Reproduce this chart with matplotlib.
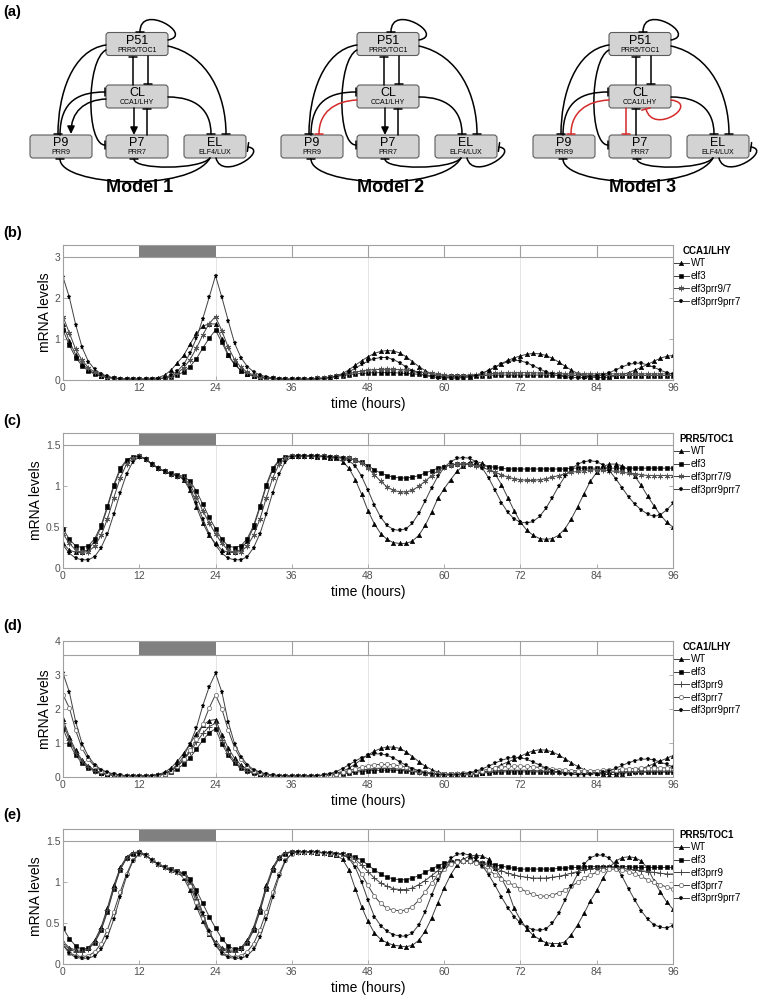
import numpy as np
import matplotlib
matplotlib.use('Agg')
import matplotlib.pyplot as plt
from matplotlib.patches import FancyBboxPatch, FancyArrowPatch, Rectangle
from matplotlib.path import Path

plt.rcParams['font.family'] = 'Liberation Sans'

hours = np.arange(0, 97)

# ---- (b) CCA1/LHY, model vs elf3 double/triple mutants ----
b_wt = [1.37, 0.95, 0.62, 0.40, 0.25, 0.16, 0.10, 0.06, 0.04, 0.03, 0.02, 0.02, 0.02,
        0.02, 0.03, 0.06, 0.12, 0.24, 0.42, 0.60, 0.88, 1.14, 1.32, 1.37, 1.37,
        1.00, 0.62, 0.38, 0.23, 0.14, 0.09, 0.06, 0.04, 0.03, 0.02, 0.02, 0.02,
        0.02, 0.02, 0.02, 0.03, 0.04, 0.06, 0.10, 0.16, 0.25, 0.36, 0.47, 0.57,
        0.65, 0.70, 0.72, 0.71, 0.66, 0.57, 0.45, 0.33, 0.23, 0.15, 0.10, 0.07,
        0.05, 0.05, 0.06, 0.08, 0.12, 0.17, 0.24, 0.32, 0.40, 0.48, 0.54, 0.59,
        0.63, 0.65, 0.64, 0.60, 0.53, 0.44, 0.34, 0.24, 0.16, 0.10, 0.07, 0.06,
        0.06, 0.07, 0.09, 0.13, 0.18, 0.24, 0.31, 0.38, 0.46, 0.53, 0.58, 0.60]
b_elf3 = [1.22, 0.85, 0.55, 0.35, 0.22, 0.14, 0.09, 0.06, 0.04, 0.03, 0.02, 0.02, 0.02,
          0.02, 0.02, 0.03, 0.04, 0.07, 0.12, 0.20, 0.33, 0.52, 0.78, 1.02, 1.22,
          0.92, 0.60, 0.38, 0.24, 0.15, 0.10, 0.07, 0.05, 0.04, 0.03, 0.02, 0.02,
          0.02, 0.02, 0.03, 0.04, 0.05, 0.07, 0.09, 0.11, 0.13, 0.15, 0.16, 0.17,
          0.18, 0.18, 0.18, 0.18, 0.17, 0.16, 0.15, 0.14, 0.12, 0.11, 0.10, 0.09,
          0.09, 0.09, 0.09, 0.10, 0.10, 0.11, 0.11, 0.12, 0.12, 0.12, 0.12, 0.12,
          0.12, 0.12, 0.12, 0.12, 0.12, 0.11, 0.11, 0.11, 0.11, 0.11, 0.11, 0.11,
          0.11, 0.11, 0.11, 0.11, 0.11, 0.11, 0.11, 0.11, 0.11, 0.11, 0.11, 0.11]
b_p97 = [1.55, 1.15, 0.75, 0.48, 0.30, 0.19, 0.12, 0.08, 0.05, 0.03, 0.02, 0.02, 0.02,
         0.02, 0.02, 0.03, 0.05, 0.09, 0.17, 0.30, 0.50, 0.78, 1.10, 1.38, 1.55,
         1.20, 0.80, 0.50, 0.31, 0.19, 0.12, 0.08, 0.05, 0.04, 0.03, 0.02, 0.02,
         0.02, 0.02, 0.03, 0.04, 0.05, 0.07, 0.10, 0.13, 0.16, 0.19, 0.22, 0.24,
         0.25, 0.26, 0.26, 0.26, 0.25, 0.24, 0.22, 0.20, 0.18, 0.16, 0.14, 0.12,
         0.11, 0.11, 0.11, 0.12, 0.13, 0.14, 0.15, 0.16, 0.17, 0.18, 0.18, 0.18,
         0.18, 0.18, 0.17, 0.17, 0.16, 0.16, 0.15, 0.15, 0.15, 0.15, 0.15, 0.15,
         0.15, 0.15, 0.15, 0.15, 0.15, 0.15, 0.15, 0.15, 0.15, 0.15, 0.15, 0.15]
b_p9p7 = [2.52, 2.02, 1.35, 0.80, 0.45, 0.26, 0.15, 0.09, 0.05, 0.03, 0.02, 0.02, 0.02,
          0.02, 0.02, 0.03, 0.06, 0.12, 0.22, 0.38, 0.66, 1.02, 1.50, 2.02, 2.55,
          2.02, 1.45, 0.90, 0.55, 0.33, 0.20, 0.12, 0.08, 0.05, 0.03, 0.02, 0.02,
          0.02, 0.02, 0.02, 0.02, 0.03, 0.05, 0.08, 0.13, 0.20, 0.29, 0.38, 0.46,
          0.52, 0.55, 0.55, 0.50, 0.42, 0.32, 0.23, 0.16, 0.11, 0.08, 0.06, 0.05,
          0.05, 0.05, 0.06, 0.08, 0.11, 0.16, 0.23, 0.31, 0.39, 0.45, 0.48, 0.47,
          0.42, 0.35, 0.27, 0.20, 0.14, 0.10, 0.08, 0.06, 0.06, 0.06, 0.07, 0.09,
          0.13, 0.18, 0.25, 0.32, 0.38, 0.41, 0.41, 0.37, 0.31, 0.24, 0.18, 0.14]

# ---- (c) PRR5/TOC1 ----
c_wt = [0.30, 0.22, 0.19, 0.19, 0.23, 0.33, 0.50, 0.74, 1.00, 1.20, 1.31, 1.36, 1.37,
        1.33, 1.27, 1.22, 1.18, 1.15, 1.13, 1.08, 0.95, 0.75, 0.55, 0.40, 0.30,
        0.22, 0.19, 0.19, 0.23, 0.33, 0.50, 0.74, 1.00, 1.20, 1.31, 1.36, 1.37,
        1.37, 1.37, 1.37, 1.36, 1.36, 1.35, 1.34, 1.30, 1.22, 1.08, 0.90, 0.70,
        0.54, 0.42, 0.35, 0.31, 0.30, 0.30, 0.33, 0.40, 0.52, 0.68, 0.85, 0.97,
        1.08, 1.18, 1.25, 1.29, 1.30, 1.28, 1.23, 1.15, 1.02, 0.86, 0.70, 0.56,
        0.46, 0.40, 0.36, 0.35, 0.36, 0.40, 0.48, 0.60, 0.75, 0.91, 1.06, 1.17,
        1.24, 1.27, 1.27, 1.25, 1.20, 1.12, 1.01, 0.88, 0.76, 0.65, 0.56, 0.50]
c_elf3 = [0.48, 0.35, 0.27, 0.25, 0.27, 0.36, 0.52, 0.76, 1.02, 1.22, 1.32, 1.36, 1.37,
          1.33, 1.27, 1.22, 1.18, 1.16, 1.14, 1.12, 1.06, 0.94, 0.78, 0.62, 0.48,
          0.35, 0.27, 0.25, 0.27, 0.36, 0.52, 0.76, 1.02, 1.22, 1.32, 1.36, 1.37,
          1.37, 1.37, 1.37, 1.37, 1.37, 1.36, 1.36, 1.35, 1.34, 1.32, 1.29, 1.25,
          1.20, 1.16, 1.13, 1.11, 1.10, 1.10, 1.11, 1.13, 1.16, 1.19, 1.22, 1.24,
          1.26, 1.27, 1.27, 1.27, 1.26, 1.25, 1.24, 1.23, 1.22, 1.21, 1.21, 1.21,
          1.21, 1.21, 1.21, 1.21, 1.21, 1.21, 1.21, 1.22, 1.22, 1.22, 1.22, 1.22,
          1.22, 1.22, 1.22, 1.22, 1.22, 1.22, 1.22, 1.22, 1.22, 1.22, 1.22, 1.22]
c_p79 = [0.42, 0.30, 0.22, 0.19, 0.20, 0.27, 0.40, 0.60, 0.86, 1.10, 1.27, 1.34, 1.37,
         1.33, 1.27, 1.22, 1.18, 1.15, 1.13, 1.10, 1.02, 0.87, 0.70, 0.55, 0.42,
         0.30, 0.22, 0.19, 0.20, 0.27, 0.40, 0.60, 0.86, 1.10, 1.27, 1.34, 1.37,
         1.37, 1.37, 1.37, 1.37, 1.37, 1.36, 1.36, 1.35, 1.34, 1.32, 1.28, 1.22,
         1.14, 1.06, 0.99, 0.95, 0.93, 0.93, 0.95, 1.00, 1.06, 1.13, 1.19, 1.23,
         1.26, 1.27, 1.27, 1.27, 1.25, 1.23, 1.20, 1.17, 1.14, 1.11, 1.09, 1.08,
         1.07, 1.07, 1.08, 1.09, 1.11, 1.13, 1.15, 1.17, 1.18, 1.19, 1.20, 1.20,
         1.20, 1.19, 1.18, 1.17, 1.16, 1.15, 1.14, 1.13, 1.13, 1.13, 1.13, 1.13]
c_p9p7 = [0.28, 0.18, 0.12, 0.10, 0.10, 0.14, 0.25, 0.42, 0.66, 0.92, 1.15, 1.30, 1.36,
          1.33, 1.27, 1.22, 1.18, 1.15, 1.13, 1.09, 0.98, 0.80, 0.60, 0.42, 0.28,
          0.18, 0.12, 0.10, 0.10, 0.14, 0.25, 0.42, 0.66, 0.92, 1.15, 1.30, 1.36,
          1.37, 1.37, 1.37, 1.37, 1.36, 1.36, 1.35, 1.34, 1.31, 1.25, 1.12, 0.95,
          0.77, 0.62, 0.52, 0.47, 0.46, 0.48, 0.55, 0.67, 0.82, 0.98, 1.12, 1.23,
          1.30, 1.34, 1.35, 1.34, 1.30, 1.22, 1.10, 0.95, 0.80, 0.68, 0.60, 0.56,
          0.55, 0.57, 0.63, 0.73, 0.86, 1.00, 1.12, 1.21, 1.27, 1.30, 1.31, 1.30,
          1.26, 1.19, 1.09, 0.98, 0.87, 0.78, 0.71, 0.66, 0.63, 0.65, 0.71, 0.79]

# ---- (d) CCA1/LHY, single and double prr mutants in elf3 ----
d_wt = [1.70, 1.18, 0.78, 0.50, 0.32, 0.20, 0.13, 0.08, 0.05, 0.04, 0.03, 0.03, 0.03,
        0.03, 0.04, 0.07, 0.14, 0.27, 0.46, 0.70, 0.98, 1.27, 1.52, 1.66, 1.69,
        1.25, 0.85, 0.55, 0.35, 0.22, 0.14, 0.09, 0.06, 0.04, 0.03, 0.03, 0.03,
        0.03, 0.03, 0.03, 0.04, 0.05, 0.07, 0.11, 0.17, 0.26, 0.38, 0.52, 0.65,
        0.76, 0.84, 0.88, 0.88, 0.84, 0.74, 0.60, 0.45, 0.32, 0.22, 0.14, 0.09,
        0.07, 0.06, 0.06, 0.07, 0.09, 0.13, 0.19, 0.27, 0.36, 0.44, 0.52, 0.61,
        0.70, 0.77, 0.80, 0.79, 0.74, 0.65, 0.54, 0.42, 0.31, 0.22, 0.15, 0.11,
        0.08, 0.07, 0.08, 0.10, 0.13, 0.18, 0.24, 0.31, 0.39, 0.47, 0.55, 0.63]
d_elf3 = [1.42, 0.98, 0.64, 0.41, 0.26, 0.17, 0.11, 0.07, 0.05, 0.04, 0.03, 0.03, 0.03,
          0.03, 0.03, 0.05, 0.08, 0.14, 0.24, 0.38, 0.57, 0.82, 1.08, 1.30, 1.42,
          0.98, 0.64, 0.41, 0.26, 0.17, 0.11, 0.07, 0.05, 0.04, 0.03, 0.03, 0.03,
          0.03, 0.03, 0.03, 0.04, 0.05, 0.06, 0.08, 0.10, 0.12, 0.14, 0.16, 0.18,
          0.19, 0.20, 0.20, 0.20, 0.19, 0.18, 0.16, 0.14, 0.12, 0.10, 0.09, 0.08,
          0.08, 0.08, 0.09, 0.10, 0.11, 0.12, 0.13, 0.14, 0.15, 0.15, 0.15, 0.15,
          0.15, 0.15, 0.15, 0.14, 0.14, 0.14, 0.14, 0.14, 0.14, 0.14, 0.14, 0.14,
          0.14, 0.14, 0.14, 0.14, 0.14, 0.14, 0.14, 0.14, 0.14, 0.14, 0.14, 0.14]
d_p9 = [1.58, 1.10, 0.72, 0.46, 0.29, 0.18, 0.12, 0.08, 0.05, 0.04, 0.03, 0.03, 0.03,
        0.03, 0.04, 0.06, 0.10, 0.18, 0.31, 0.50, 0.74, 1.02, 1.28, 1.48, 1.58,
        1.10, 0.72, 0.46, 0.29, 0.18, 0.12, 0.08, 0.05, 0.04, 0.03, 0.03, 0.03,
        0.03, 0.03, 0.03, 0.04, 0.05, 0.07, 0.09, 0.12, 0.15, 0.18, 0.21, 0.23,
        0.25, 0.26, 0.26, 0.25, 0.23, 0.21, 0.18, 0.15, 0.12, 0.10, 0.08, 0.07,
        0.07, 0.08, 0.09, 0.10, 0.12, 0.14, 0.16, 0.18, 0.19, 0.20, 0.20, 0.20,
        0.20, 0.19, 0.18, 0.17, 0.16, 0.15, 0.14, 0.13, 0.13, 0.13, 0.13, 0.13,
        0.14, 0.14, 0.15, 0.15, 0.16, 0.16, 0.16, 0.17, 0.17, 0.17, 0.17, 0.17]
d_p7 = [2.42, 2.03, 1.37, 0.84, 0.52, 0.31, 0.19, 0.12, 0.08, 0.05, 0.04, 0.03, 0.03,
        0.03, 0.04, 0.06, 0.10, 0.18, 0.32, 0.52, 0.78, 1.12, 1.55, 2.03, 2.42,
        2.00, 1.38, 0.86, 0.52, 0.31, 0.19, 0.12, 0.08, 0.05, 0.04, 0.03, 0.03,
        0.03, 0.03, 0.03, 0.04, 0.05, 0.07, 0.10, 0.14, 0.19, 0.24, 0.29, 0.33,
        0.36, 0.37, 0.37, 0.36, 0.33, 0.29, 0.24, 0.19, 0.15, 0.12, 0.10, 0.09,
        0.09, 0.10, 0.11, 0.13, 0.16, 0.19, 0.23, 0.26, 0.29, 0.31, 0.32, 0.32,
        0.31, 0.30, 0.28, 0.26, 0.24, 0.22, 0.20, 0.19, 0.18, 0.18, 0.18, 0.19,
        0.20, 0.21, 0.22, 0.23, 0.24, 0.25, 0.26, 0.27, 0.27, 0.27, 0.27, 0.27]
d_p9p7 = [3.05, 2.50, 1.62, 0.98, 0.60, 0.36, 0.22, 0.14, 0.09, 0.06, 0.04, 0.03, 0.03,
          0.03, 0.04, 0.06, 0.11, 0.20, 0.36, 0.62, 0.98, 1.45, 2.10, 2.65, 3.05,
          2.50, 1.62, 0.98, 0.60, 0.36, 0.22, 0.14, 0.09, 0.06, 0.04, 0.03, 0.03,
          0.03, 0.03, 0.03, 0.04, 0.06, 0.10, 0.16, 0.25, 0.36, 0.47, 0.57, 0.64,
          0.68, 0.68, 0.64, 0.56, 0.45, 0.34, 0.25, 0.17, 0.12, 0.09, 0.07, 0.06,
          0.06, 0.07, 0.09, 0.12, 0.17, 0.24, 0.32, 0.41, 0.49, 0.55, 0.58, 0.57,
          0.52, 0.44, 0.35, 0.26, 0.19, 0.14, 0.10, 0.08, 0.07, 0.07, 0.08, 0.10,
          0.14, 0.19, 0.26, 0.34, 0.42, 0.48, 0.52, 0.53, 0.50, 0.44, 0.37, 0.30]

# ---- (e) PRR5/TOC1 ----
e_wt = [0.27, 0.20, 0.17, 0.17, 0.20, 0.29, 0.45, 0.69, 0.96, 1.18, 1.31, 1.36, 1.37,
        1.33, 1.27, 1.22, 1.18, 1.15, 1.12, 1.05, 0.90, 0.70, 0.52, 0.37, 0.27,
        0.20, 0.17, 0.17, 0.20, 0.29, 0.45, 0.69, 0.96, 1.18, 1.31, 1.36, 1.37,
        1.37, 1.37, 1.37, 1.36, 1.36, 1.35, 1.33, 1.28, 1.15, 0.92, 0.70, 0.52,
        0.38, 0.30, 0.26, 0.23, 0.22, 0.21, 0.23, 0.29, 0.40, 0.56, 0.75, 0.93,
        1.09, 1.21, 1.28, 1.32, 1.33, 1.32, 1.28, 1.17, 1.05, 0.90, 0.68, 0.54,
        0.43, 0.35, 0.30, 0.26, 0.25, 0.25, 0.27, 0.36, 0.48, 0.62, 0.77, 0.90,
        1.05, 1.18, 1.26, 1.30, 1.31, 1.30, 1.26, 1.17, 1.02, 0.88, 0.76, 0.67]
e_elf3 = [0.44, 0.31, 0.22, 0.18, 0.19, 0.26, 0.41, 0.64, 0.92, 1.15, 1.29, 1.35, 1.37,
          1.33, 1.27, 1.22, 1.18, 1.16, 1.14, 1.11, 1.04, 0.90, 0.74, 0.58, 0.44,
          0.31, 0.22, 0.18, 0.19, 0.26, 0.41, 0.64, 0.92, 1.15, 1.29, 1.35, 1.37,
          1.37, 1.37, 1.37, 1.37, 1.36, 1.36, 1.35, 1.34, 1.33, 1.31, 1.27, 1.21,
          1.15, 1.10, 1.06, 1.04, 1.03, 1.03, 1.05, 1.08, 1.12, 1.16, 1.20, 1.23,
          1.25, 1.26, 1.26, 1.26, 1.25, 1.24, 1.23, 1.21, 1.20, 1.18, 1.17, 1.16,
          1.16, 1.16, 1.16, 1.16, 1.16, 1.17, 1.17, 1.18, 1.18, 1.19, 1.19, 1.19,
          1.19, 1.19, 1.19, 1.19, 1.19, 1.18, 1.18, 1.18, 1.18, 1.18, 1.18, 1.18]
e_p9 = [0.25, 0.18, 0.15, 0.15, 0.18, 0.27, 0.43, 0.66, 0.93, 1.16, 1.30, 1.36, 1.37,
        1.33, 1.27, 1.22, 1.18, 1.15, 1.13, 1.09, 0.98, 0.80, 0.60, 0.40, 0.25,
        0.18, 0.15, 0.15, 0.18, 0.27, 0.43, 0.66, 0.93, 1.16, 1.30, 1.36, 1.37,
        1.37, 1.37, 1.37, 1.37, 1.36, 1.36, 1.35, 1.34, 1.32, 1.28, 1.21, 1.13,
        1.05, 0.99, 0.95, 0.92, 0.91, 0.91, 0.93, 0.97, 1.02, 1.08, 1.14, 1.19,
        1.23, 1.25, 1.26, 1.26, 1.25, 1.23, 1.20, 1.17, 1.14, 1.11, 1.09, 1.07,
        1.06, 1.05, 1.05, 1.05, 1.06, 1.07, 1.09, 1.11, 1.13, 1.15, 1.16, 1.17,
        1.18, 1.18, 1.18, 1.17, 1.16, 1.15, 1.14, 1.13, 1.12, 1.11, 1.10, 1.10]
e_p7 = [0.24, 0.14, 0.10, 0.09, 0.10, 0.15, 0.25, 0.42, 0.64, 0.88, 1.10, 1.27, 1.35,
        1.33, 1.27, 1.22, 1.18, 1.15, 1.12, 1.07, 0.95, 0.76, 0.56, 0.38, 0.24,
        0.14, 0.10, 0.09, 0.10, 0.15, 0.25, 0.42, 0.64, 0.88, 1.10, 1.27, 1.35,
        1.37, 1.37, 1.37, 1.37, 1.36, 1.36, 1.35, 1.34, 1.30, 1.22, 1.10, 0.96,
        0.83, 0.74, 0.68, 0.66, 0.65, 0.66, 0.70, 0.78, 0.88, 0.99, 1.08, 1.16,
        1.22, 1.25, 1.26, 1.26, 1.24, 1.20, 1.15, 1.09, 1.04, 1.00, 0.96, 0.92,
        0.88, 0.85, 0.83, 0.83, 0.84, 0.87, 0.90, 0.95, 1.00, 1.05, 1.09, 1.12,
        1.15, 1.16, 1.16, 1.15, 1.13, 1.10, 1.07, 1.03, 1.00, 0.97, 0.94, 0.92]
e_p9p7 = [0.23, 0.13, 0.08, 0.07, 0.07, 0.10, 0.18, 0.33, 0.55, 0.82, 1.07, 1.26, 1.35,
          1.33, 1.27, 1.22, 1.18, 1.15, 1.13, 1.10, 1.02, 0.85, 0.62, 0.40, 0.23,
          0.13, 0.08, 0.07, 0.07, 0.10, 0.18, 0.33, 0.55, 0.82, 1.07, 1.26, 1.35,
          1.37, 1.37, 1.37, 1.37, 1.36, 1.36, 1.35, 1.34, 1.29, 1.18, 1.00, 0.78,
          0.58, 0.47, 0.40, 0.36, 0.34, 0.34, 0.38, 0.48, 0.64, 0.84, 1.03, 1.18,
          1.29, 1.34, 1.35, 1.33, 1.28, 1.20, 1.09, 0.96, 0.82, 0.69, 0.58, 0.50,
          0.45, 0.42, 0.41, 0.43, 0.50, 0.62, 0.78, 0.95, 1.10, 1.22, 1.30, 1.33,
          1.33, 1.29, 1.20, 1.07, 0.92, 0.78, 0.65, 0.55, 0.48, 0.45, 0.44, 0.47]

xticks = [0, 12, 24, 36, 48, 60, 72, 84, 96]

STYLE = {
    'WT': dict(marker='^', ms=3.2, mfc='k', mec='k', mew=0.4),
    'elf3': dict(marker='s', ms=2.3, mfc='k', mec='k', mew=0.4),
    'star': dict(marker=(6, 2, 0), ms=4.0, mfc='#555555', mec='#555555', mew=0.7),
    'elf3prr9': dict(marker='+', ms=4.0, mfc='#444444', mec='#444444', mew=0.7),
    'elf3prr7': dict(marker='o', ms=3.0, mfc='white', mec='#777777', mew=0.6),
    'elf3prr9prr7': dict(marker='*', ms=3.6, mfc='k', mec='k', mew=0.3),
}

W, H = 766, 999
fig = plt.figure(figsize=(W / 100, H / 100), dpi=100)


def rect(x0, y0, x1, y1):
    return [x0 / W, 1 - y1 / H, (x1 - x0) / W, (y1 - y0) / H]


# ---------------- (a) model diagrams ----------------
axd = fig.add_axes([0, 0, 1, 1], zorder=0)
axd.set_xlim(0, W)
axd.set_ylim(H, 0)
axd.axis('off')

RED = '#d42a2a'


def box(cx, cy, name, sub):
    axd.add_patch(FancyBboxPatch((cx - 31, cy - 11.5), 62, 23,
                                 boxstyle='round,pad=0,rounding_size=3',
                                 fc='#d3d3d3', ec='#5c5c5c', lw=0.8, zorder=2))
    axd.text(cx, cy - 3.5, name, ha='center', va='center', fontsize=9, zorder=5)
    axd.text(cx, cy + 6.5, sub, ha='center', va='center', fontsize=5, zorder=5)


def edge(ox, pts, kind, color='k'):
    pts = [(x + ox, y) for x, y in pts]
    if len(pts) == 2:
        codes = [Path.MOVETO, Path.LINETO]
    else:
        codes = [Path.MOVETO, Path.CURVE4, Path.CURVE4, Path.CURVE4]
    if kind == 'arrow':
        style = '-|>,head_length=0.45,head_width=0.22'
    else:
        style = '-[,widthB=0.32,lengthB=0'
    axd.add_patch(FancyArrowPatch(path=Path(pts, codes), arrowstyle=style,
                                  mutation_scale=10, lw=1.1, color=color, zorder=3))


def model(ox, version, label):
    box(137 + ox, 44, 'P51', 'PRR5/TOC1')
    box(137 + ox, 96.5, 'CL', 'CCA1/LHY')
    box(61 + ox, 146.5, 'P9', 'PRR9')
    box(137 + ox, 146.5, 'P7', 'PRR7')
    box(215 + ox, 146.5, 'EL', 'ELF4/LUX')
    # P51 self-inhibition
    edge(ox, [(168, 40), (195, 35), (140, 2), (140, 32)], 'bar')
    # P51 <-> CL
    edge(ox, [(133, 85), (133, 57)], 'bar')
    edge(ox, [(148, 56), (148, 84)], 'bar')
    # P51 -| P9, P7, EL
    edge(ox, [(106, 45), (72, 50), (58, 95), (58, 134)], 'bar')
    edge(ox, [(106, 50), (86, 60), (86, 145), (105, 145)], 'bar')
    edge(ox, [(168, 46), (208, 55), (226, 95), (226, 134)], 'bar')
    # P9 -| CL
    edge(ox, [(60, 135), (60, 100), (80, 92), (105, 92)], 'bar')
    # CL -| EL
    edge(ox, [(168, 97), (196, 97), (211, 110), (211, 134)], 'bar')
    # EL self-inhibition
    edge(ox, [(216, 158), (222, 182), (270, 150), (248, 147)], 'bar')
    # EL -| P7, P9
    edge(ox, [(210, 158), (200, 170), (134, 170), (134, 159)], 'bar')
    edge(ox, [(210, 158), (190, 193), (60, 186), (60, 159)], 'bar')
    # CL -> / -| P9
    if version == 1:
        edge(ox, [(106, 99), (84, 100), (71, 112), (71, 134)], 'arrow')
    else:
        edge(ox, [(106, 100), (84, 101), (68, 112), (68, 134)], 'bar', RED)
    # CL <-> P7
    if version < 3:
        edge(ox, [(134, 108), (134, 135)], 'arrow')
        edge(ox, [(147, 135), (147, 109)], 'bar')
    else:
        edge(ox, [(123, 108), (123, 134)], 'bar', RED)
        edge(ox, [(133, 135), (133, 109)], 'bar')
        edge(ox, [(168, 100), (198, 104), (150, 136), (143, 109)], 'bar', RED)
    axd.text(140 + ox, 188, label, ha='center', va='center', fontsize=13,
             fontweight='bold')


model(0, 1, 'Model 1')
model(251, 2, 'Model 2')
model(503, 3, 'Model 3')

# ---------------- (b)-(e) time courses ----------------


def panel(box_px, top, strip, yticks, ylabels, series, title):
    ax = fig.add_axes(rect(*box_px))
    ax.vlines([24, 48, 72], 0, strip, color='#e4e4e4', lw=0.7, zorder=0)
    for vals, lab, key in series:
        ax.plot(hours, vals, color='#404040', lw=0.7, label=lab, zorder=2, **STYLE[key])
    ax.add_patch(Rectangle((0, strip), 96, top - strip, fc='white', ec='none', zorder=4))
    ax.add_patch(Rectangle((12, strip), 12, top - strip, fc='#808080', ec='none', zorder=5))
    ax.vlines([36, 48, 60, 72, 84], strip, top, color='#a0a0a0', lw=0.8, zorder=5)
    ax.hlines(strip, 0, 96, color='#a0a0a0', lw=0.8, zorder=5)
    ax.set_xlim(0, 96)
    ax.set_ylim(0, top)
    ax.set_xticks(xticks)
    ax.set_yticks(yticks)
    ax.set_yticklabels(ylabels)
    ax.tick_params(direction='in', length=3, width=0.6, colors='#a0a0a0',
                   labelcolor='#505050', labelsize=7.5, right=True, pad=2)
    for sp in ax.spines.values():
        sp.set_color('#a0a0a0')
        sp.set_linewidth(0.8)
        sp.set_zorder(6)
    ax.set_xlabel('time (hours)', fontsize=10, labelpad=3)
    ax.set_ylabel('mRNA levels', fontsize=10, labelpad=2)
    leg = ax.legend(loc='upper left', bbox_to_anchor=(1.0, 0.995), frameon=False,
                    fontsize=7, title=title, handlelength=1.6, handletextpad=0.2,
                    labelspacing=0.28, borderaxespad=0, borderpad=0, numpoints=1)
    leg.get_title().set_fontweight('bold')
    leg.get_title().set_fontsize(7)
    return ax


panel((63, 245, 673, 380), 3.3, 3.0, [0, 1, 2, 3], ['0', '1', '2', '3'],
      [(b_wt, 'WT', 'WT'), (b_elf3, 'elf3', 'elf3'),
       (b_p97, 'elf3prr9/7', 'star'), (b_p9p7, 'elf3prr9prr7', 'elf3prr9prr7')],
      'CCA1/LHY')
panel((63, 433, 673, 568), 1.65, 1.5, [0, 0.5, 1, 1.5], ['0', '0.5', '1', '1.5'],
      [(c_wt, 'WT', 'WT'), (c_elf3, 'elf3', 'elf3'),
       (c_p79, 'elf3prr7/9', 'star'), (c_p9p7, 'elf3prr9prr7', 'elf3prr9prr7')],
      'PRR5/TOC1')
panel((63, 641, 673, 777), 4.0, 3.6, [0, 1, 2, 3, 4], ['0', '1', '2', '3', '4'],
      [(d_wt, 'WT', 'WT'), (d_elf3, 'elf3', 'elf3'), (d_p9, 'elf3prr9', 'elf3prr9'),
       (d_p7, 'elf3prr7', 'elf3prr7'), (d_p9p7, 'elf3prr9prr7', 'elf3prr9prr7')],
      'CCA1/LHY')
panel((63, 829, 673, 964), 1.65, 1.5, [0, 0.5, 1, 1.5], ['0', '0.5', '1', '1.5'],
      [(e_wt, 'WT', 'WT'), (e_elf3, 'elf3', 'elf3'), (e_p9, 'elf3prr9', 'elf3prr9'),
       (e_p7, 'elf3prr7', 'elf3prr7'), (e_p9p7, 'elf3prr9prr7', 'elf3prr9prr7')],
      'PRR5/TOC1')

for lab, y in [('(a)', 12), ('(b)', 233), ('(c)', 421), ('(d)', 626), ('(e)', 815)]:
    fig.text(3 / W, 1 - y / H, lab, fontsize=10.5, fontweight='bold', va='center')

fig.savefig('out.png', dpi=100)
